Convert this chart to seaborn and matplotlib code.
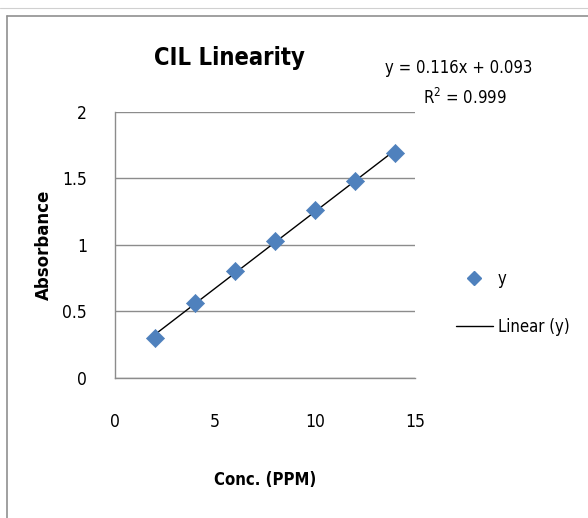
import numpy as np
import pandas as pd
import matplotlib
matplotlib.use("Agg")
import matplotlib.pyplot as plt
from matplotlib.lines import Line2D
from matplotlib import font_manager
import seaborn as sns

conc = [2, 4, 6, 8, 10, 12, 14]
absorbance = [0.301, 0.565, 0.808, 1.029, 1.26, 1.48, 1.694]
x_ticks = [0, 5, 10, 15]
y_ticks = [0, 0.5, 1, 1.5, 2]
y_tick_labels = ["0", "0.5", "1", "1.5", "2"]
equation = "y = 0.116x + 0.093"
r2_text = "R$^2$ = 0.999"

sns.set_theme(style="white")
names = {f.name for f in font_manager.fontManager.ttflist}
fam = "Liberation Sans Narrow" if "Liberation Sans Narrow" in names else "DejaVu Sans"
plt.rcParams['font.family'] = [fam, 'DejaVu Sans']
plt.rcParams['font.stretch'] = 'condensed'
plt.rcParams['text.color'] = 'black'
plt.rcParams['axes.labelcolor'] = 'black'
plt.rcParams['mathtext.fontset'] = 'custom'
plt.rcParams['mathtext.rm'] = fam

df = pd.DataFrame({"conc": conc, "abs": absorbance})

fig = plt.figure(figsize=(5.88, 5.18), dpi=100)
fig.add_artist(plt.Line2D([0.012, 0.012], [0.0, 0.97], color="#909090", lw=1.2, transform=fig.transFigure))
fig.add_artist(plt.Line2D([0.012, 1.0], [0.97, 0.97], color="#909090", lw=1.2, transform=fig.transFigure))
fig.add_artist(plt.Line2D([0.0, 1.0], [0.985, 0.985], color="#d0d0d0", lw=0.8, transform=fig.transFigure))

ax = fig.add_axes([0.1956, 0.2703, 0.510, 0.5135])
sns.regplot(data=df, x="conc", y="abs", ax=ax, scatter=False, ci=None, truncate=True,
            line_kws=dict(color="black", lw=1.0))
sns.scatterplot(data=df, x="conc", y="abs", ax=ax, marker="D", s=85, color="#4F81BD",
                edgecolor="#4F81BD", linewidth=0.5, zorder=3)

ax.set_xlim(0, 15)
ax.set_ylim(0, 2)
ax.set_xticks(x_ticks)
ax.set_yticks(y_ticks)
ax.set_yticklabels(y_tick_labels)
ax.grid(axis="y", color="#8c8c8c", lw=1.0)
ax.grid(axis="x", visible=False)
for s in ["top", "right"]:
    ax.spines[s].set_visible(False)
for s in ["left", "bottom"]:
    ax.spines[s].set_color("#8c8c8c")
    ax.spines[s].set_linewidth(1.0)
ax.tick_params(axis="both", which="major", direction="out", length=6, color="#8c8c8c",
               width=1.0, labelsize=12.5, labelcolor="black")
ax.tick_params(axis="x", pad=19)
ax.tick_params(axis="y", pad=14)
ax.set_xlabel("Conc. (PPM)", fontsize=12, fontweight="bold", labelpad=29)
ax.set_ylabel("Absorbance", fontsize=12, fontweight="bold", labelpad=7,
              fontstretch="normal")

fig.text(0.39, 0.888, "CIL Linearity", fontsize=17, fontweight="bold", ha="center", va="center")
fig.text(0.78, 0.868, equation, fontsize=12, ha="center", va="center")
fig.text(0.79, 0.81, r2_text, fontsize=12, ha="center", va="center")

handles = [Line2D([], [], marker="D", color="#4F81BD", ls="none", markersize=7),
           Line2D([], [], color="black", lw=1.0)]
fig.legend(handles, ["y", "Linear (y)"], loc="center left", bbox_to_anchor=(0.75, 0.415),
           frameon=False, fontsize=12, labelspacing=1.8, handlelength=2.2, handletextpad=0.3)

fig.savefig("out.png", dpi=100)
